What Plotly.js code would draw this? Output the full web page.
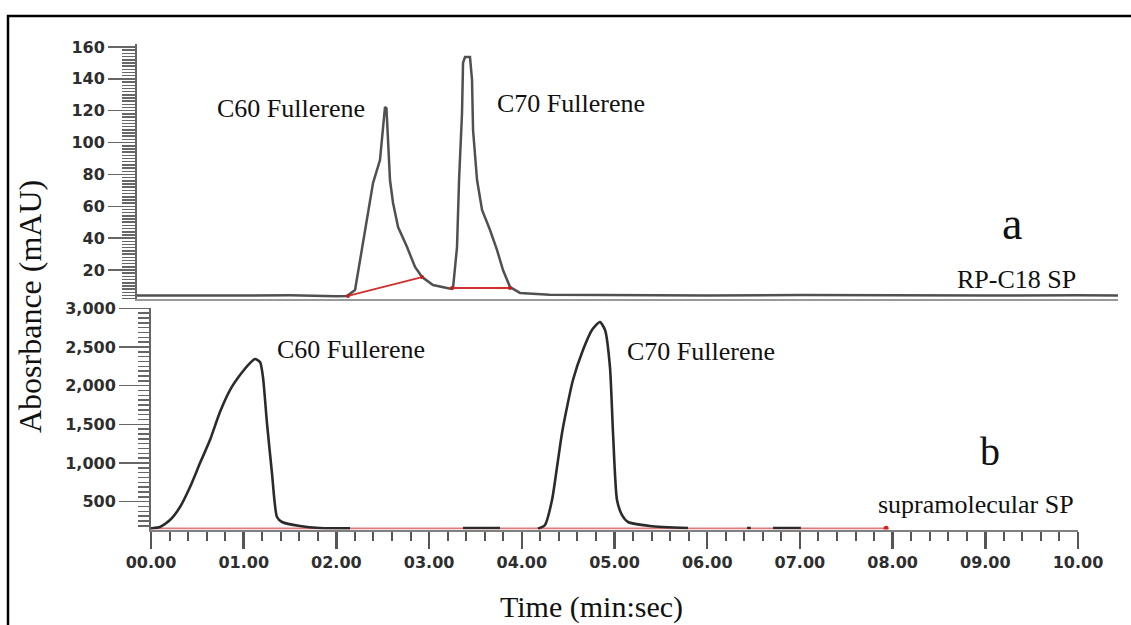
<!DOCTYPE html>
<html><head><meta charset="utf-8">
<script src="https://cdn.plot.ly/plotly-3.0.1.min.js"></script>
<style>html,body{margin:0;padding:0;background:#fff}#chart{width:1131px;height:625px}</style>
</head><body><div id="chart"></div>
<script>
// ---- top chromatogram (a) RP-C18 SP, mAU ----
const topTime = [-0.151,0.5,1.0,1.5,2.0,2.114,2.201,2.276,2.330,2.395,2.470,2.503,2.524,2.540,2.557,2.578,2.611,2.665,2.762,2.848,2.924,3.042,3.193,3.247,3.258,3.301,3.323,3.355,3.366,3.387,3.441,3.463,3.474,3.517,3.571,3.657,3.732,3.797,3.873,3.981,4.3,5.0,6.0,7.0,8.0,9.0,10.0,10.431];
const topAbs  = [4.0,4.2,4.0,4.1,3.6,3.7,7.4,34.4,53.3,74.6,89.0,107.9,122.3,121.5,101.6,76.5,62.1,47.0,34.4,21.9,15.6,10.6,8.7,8.1,8.7,34.4,76.5,118.6,150.0,153.7,153.7,139.3,107.9,76.5,57.7,45.1,32.6,20.0,9.3,5.6,4.5,4.2,4.0,4.3,4.1,4.0,4.2,4.0];
// red integration baselines (top)
const topBase1Time = [2.125, 2.924];
const topBase1Abs  = [3.7, 15.6];
const topBase2Time = [3.247, 3.873];
const topBase2Abs  = [8.7, 8.7];

// ---- bottom chromatogram (b) supramolecular SP, mAU ----
const botTime = [0.0,0.011,0.097,0.205,0.313,0.421,0.529,0.636,0.744,0.852,0.960,1.068,1.122,1.176,1.208,1.251,1.305,1.359,1.413,1.607,1.823,2.147,2.5,3.366,3.765,4.0,4.175,4.250,4.326,4.380,4.434,4.488,4.552,4.660,4.757,4.843,4.898,4.951,4.984,5.027,5.081,5.146,5.383,5.793,6.2,6.43,6.47,6.6,6.71,7.01];
const botAbs  = [155,156,173,263,431,690,1000,1297,1659,1943,2137,2292,2344,2305,2111,1517,871,302,238,186,160,156,null,160,160,null,150,199,522,949,1388,1724,2073,2460,2719,2822,2719,2241,1388,522,328,238,186,160,null,160,160,null,160,160];
const botBaseTime = [0.0, 7.93];
const botBaseAbs  = [155, 155];
const botDotTime = [7.93];
const botDotAbs  = [158];

// ---- tick labels ----
const xTickVals = [0,1,2,3,4,5,6,7,8,9,10];
const xTickText = ['00.00','01.00','02.00','03.00','04.00','05.00','06.00','07.00','08.00','09.00','10.00'];
const yTopTicks = [20,40,60,80,100,120,140,160];
const yBotTicks = [500,1000,1500,2000,2500,3000];

const W = 1131, H = 625;
const px = x => x / W, py = y => 1 - y / H;
const tickFont = {family:'"DejaVu Sans", Arial, sans-serif', size:16, color:'#2e2e2e', weight:'bold'};
const serif = '"Liberation Serif", "Times New Roman", serif';

const traces = [
  {x: topTime, y: topAbs, xaxis:'x2', yaxis:'y2', mode:'lines', line:{color:'#505050', width:2.5}},
  {x: topBase1Time, y: topBase1Abs, xaxis:'x2', yaxis:'y2', mode:'lines+markers', line:{color:'#d03030', width:1.8}, marker:{color:'#c02020', size:4}},
  {x: topBase2Time, y: topBase2Abs, xaxis:'x2', yaxis:'y2', mode:'lines+markers', line:{color:'#d03030', width:1.8}, marker:{color:'#c02020', size:4}},
  {x: botBaseTime, y: botBaseAbs, xaxis:'x', yaxis:'y', mode:'lines', line:{color:'rgba(215,90,90,0.8)', width:2}},
  {x: botTime, y: botAbs, xaxis:'x', yaxis:'y', mode:'lines', connectgaps:false, line:{color:'#2b2b2b', width:2.6, shape:'spline', smoothing:0.6}},
  {x: botDotTime, y: botDotAbs, xaxis:'x', yaxis:'y', mode:'markers', marker:{color:'#d02020', size:5}}
];

function ann(text, x, y, size, extra) {
  return Object.assign({text, x: px(x), y: py(y), xref:'paper', yref:'paper', xanchor:'center', yanchor:'middle', showarrow:false, font:{family: serif, size, color:'#111'}}, extra || {});
}

const layout = {
  width: W, height: H,
  margin: {l:0, r:0, t:0, b:0},
  paper_bgcolor:'#fff', plot_bgcolor:'rgba(0,0,0,0)',
  showlegend:false, hovermode:false,
  xaxis: {
    domain:[px(151), px(1078)], range:[0,10], anchor:'y',
    showline:true, linecolor:'#808080', linewidth:2.5, showgrid:false, zeroline:false,
    ticks:'outside', ticklen:17, tickwidth:2.5, tickcolor:'#555',
    tickmode:'array', tickvals:xTickVals, ticktext:xTickText, tickfont:tickFont,
    minor:{tick0:0, dtick:0.2, ticks:'outside', ticklen:9, tickwidth:2, tickcolor:'#555'}
  },
  yaxis: {
    domain:[py(529.5), py(308.3)], range:[141,3000], anchor:'x',
    showline:true, linecolor:'#666', linewidth:2, showgrid:false, zeroline:false,
    ticks:'outside', ticklen:30, tickwidth:1.5, tickcolor:'#666',
    tickmode:'array', tickvals:yBotTicks, tickformat:',d', tickfont:tickFont,
    minor:{tick0:0, dtick:62.5, ticks:'outside', ticklen:11, tickwidth:1.5, tickcolor:'#666'}
  },
  xaxis2: {
    domain:[px(137), px(1118)], range:[-0.151,10.431], anchor:'y2',
    showline:true, linecolor:'#999', linewidth:2, showgrid:false, zeroline:false,
    ticks:'', showticklabels:false
  },
  yaxis2: {
    domain:[py(299), py(44)], range:[1.8,161.9], anchor:'x2',
    showline:true, linecolor:'#666', linewidth:2, showgrid:false, zeroline:false,
    ticks:'outside', ticklen:27, tickwidth:1.5, tickcolor:'#666',
    tickmode:'array', tickvals:yTopTicks, tickfont:tickFont,
    minor:{tick0:0, dtick:2, ticks:'outside', ticklen:13, tickwidth:1.5, tickcolor:'#666'}
  },
  shapes: [
    {type:'rect', xref:'paper', yref:'paper', x0:px(8), x1:1.05, y0:-0.05, y1:py(16), line:{color:'#000', width:2.5}, fillcolor:'rgba(0,0,0,0)'}
  ],
  annotations: [
    ann('C60 Fullerene', 291, 108, 26),
    ann('C70 Fullerene', 571, 103, 26),
    ann('C60 Fullerene', 351, 349, 26),
    ann('C70 Fullerene', 701, 351, 26),
    ann('a', 1012, 223, 46),
    ann('RP-C18 SP', 1016, 279, 26),
    ann('b', 990, 452, 40),
    ann('supramolecular SP', 976, 504, 26),
    ann('Time (min:sec)', 591, 607, 30),
    ann('Abosrbance (mAU)', 30, 307, 32, {textangle:-90})
  ]
};

Plotly.newPlot('chart', traces, layout, {staticPlot:true, displayModeBar:false});
</script>
</body></html>
